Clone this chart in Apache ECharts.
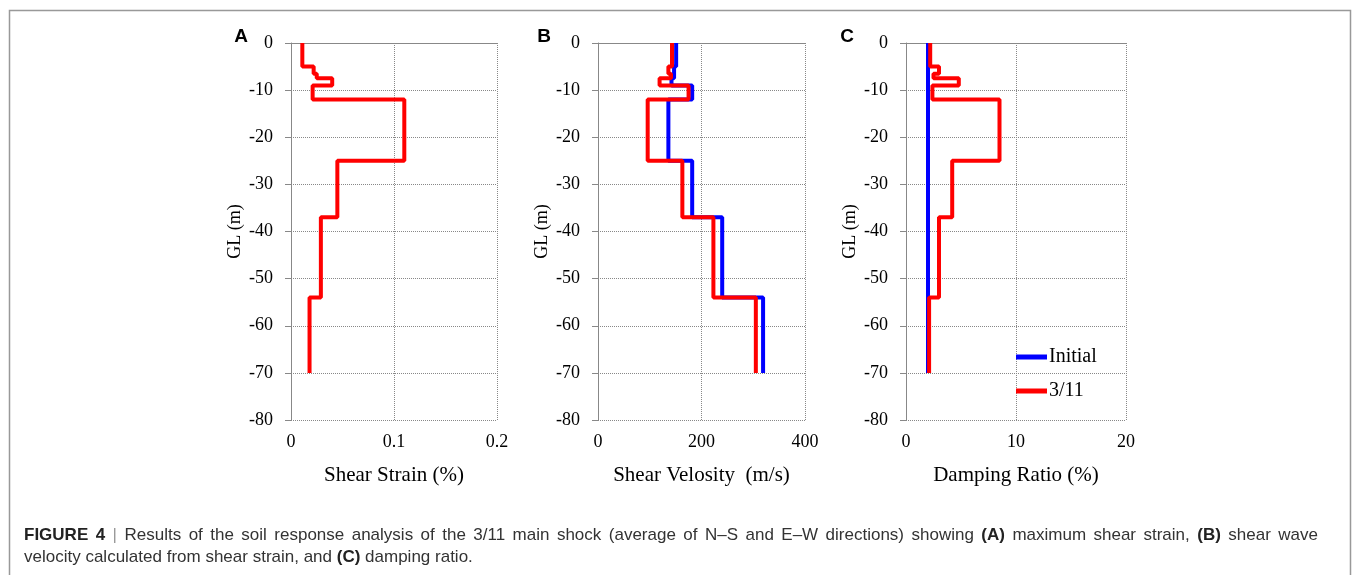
<!DOCTYPE html>
<html><head><meta charset="utf-8">
<script src="https://cdn.jsdelivr.net/npm/echarts@6/dist/echarts.min.js"></script>
<style>
html,body{margin:0;padding:0;background:#fff}
#wrap{position:relative;width:1357px;height:575px;overflow:hidden}
#c{width:1357px;height:575px}
.cap{position:absolute;left:24px;width:1294px;font-family:"Liberation Sans",Arial,sans-serif;font-size:17px;color:#333;white-space:nowrap;line-height:18px}
.cap b{color:#222}
.cap .s{color:#999}
#l1{top:526px;text-align:justify;text-align-last:justify}
#l2{top:548px;text-align:left}
</style>
</head><body><div id="wrap"><div id="c"></div>
<div class="cap" id="l1"></div>
<div class="cap" id="l2"></div>
</div>
<script>
// Layer boundaries (GL, m) and per-layer values
const depthBounds = [0, -5, -6.5, -7.5, -9, -12, -25, -37, -54, -70];
const strain311   = [0.011, 0.022, 0.025, 0.040, 0.021, 0.110, 0.045, 0.029, 0.018];
const vsInitial   = [151, 147, 147, 142, 182, 136, 182, 240, 319];
const vs311       = [143, 136, 141, 119, 175, 96, 163, 223, 305];
const dampInitial = [2.0, 2.0, 2.0, 2.0, 2.0, 2.0, 2.0, 2.0, 2.0];
const damp311     = [2.2, 3.0, 2.5, 4.8, 2.4, 8.5, 4.2, 3.0, 2.1];
const panelLetters = ['A', 'B', 'C'];
const xTitles = ['Shear Strain (%)', 'Shear Velosity  (m/s)', 'Damping Ratio (%)'];
const xMax = [0.2, 400, 20];
const xInterval = [0.1, 200, 10];
const yTitle = 'GL (m)';
const legendNames = ['Initial', '3/11'];
const captionLine1 = '<b>FIGURE 4</b> <span class="s">|</span> Results of the soil response analysis of the 3/11 main shock (average of N–S and E–W directions) showing <b>(A)</b> maximum shear strain, <b>(B)</b> shear wave';
const captionLine2 = 'velocity calculated from shear strain, and <b>(C)</b> damping ratio.';

document.getElementById('l1').innerHTML = captionLine1;
document.getElementById('l2').innerHTML = captionLine2;

function steps(vals) {
  const pts = [];
  for (let i = 0; i < vals.length; i++) {
    pts.push([vals[i], depthBounds[i]], [vals[i], depthBounds[i + 1]]);
  }
  return pts;
}

const serif = 'Liberation Serif';
const grids = [
  {left: 291, top: 43, width: 206, height: 377},
  {left: 598, top: 43, width: 207, height: 377},
  {left: 906, top: 43, width: 220, height: 377}
];
const xAxes = grids.map((g, i) => ({
  gridIndex: i, type: 'value', min: 0, max: xMax[i], interval: xInterval[i],
  name: xTitles[i], nameLocation: 'middle', nameGap: 45,
  nameTextStyle: {fontFamily: serif, fontSize: 21, color: '#000'},
  axisLine: {show: true, lineStyle: {color: '#888', width: 1}},
  axisTick: {show: false},
  axisLabel: {fontFamily: serif, fontSize: 18, color: '#000', margin: 13},
  splitLine: {show: true, lineStyle: {type: 'dotted', color: '#888', width: 1}}
}));
const yAxes = grids.map((g, i) => ({
  gridIndex: i, type: 'value', min: -80, max: 0, interval: 10,
  name: yTitle, nameLocation: 'middle', nameGap: 47,
  nameTextStyle: {fontFamily: serif, fontSize: 18, color: '#000'},
  axisLine: {show: true, onZero: false, lineStyle: {color: '#888', width: 1}},
  axisTick: {show: true, length: 6, lineStyle: {color: '#888'}},
  axisLabel: {fontFamily: serif, fontSize: 18, color: '#000', margin: 18},
  splitLine: {show: true, lineStyle: {type: 'dotted', color: '#888', width: 1}}
}));

const lineSeries = (name, idx, vals, color) => ({
  name, type: 'line', xAxisIndex: idx, yAxisIndex: idx, data: steps(vals),
  showSymbol: false, symbol: 'none', lineStyle: {color, width: 4}, itemStyle: {color},
  animation: false, z: name === '3/11' ? 3 : 2
});

const series = [
  lineSeries('3/11', 0, strain311, '#ff0000'),
  lineSeries('Initial', 1, vsInitial, '#0000ff'),
  lineSeries('3/11', 1, vs311, '#ff0000'),
  lineSeries('Initial', 2, dampInitial, '#0000ff'),
  lineSeries('3/11', 2, damp311, '#ff0000')
];

const letterX = [241, 544, 847];
const graphic = [
  {type: 'rect', shape: {x: 9.5, y: 10.5, width: 1341, height: 620}, style: {fill: 'none', stroke: '#999', lineWidth: 1.5}, silent: true},
  ...panelLetters.map((t, i) => ({type: 'text', x: letterX[i], y: 37, style: {text: t, font: 'bold 19px "Liberation Sans"', fill: '#000', align: 'center', verticalAlign: 'middle'}}))
];

const chart = echarts.init(document.getElementById('c'), null, {renderer: 'canvas'});
chart.setOption({
  animation: false,
  backgroundColor: '#fff',
  grid: grids,
  xAxis: xAxes,
  yAxis: yAxes,
  series,
  legend: {
    data: legendNames, orient: 'vertical', left: 1016, top: 347, padding: 0,
    itemWidth: 31, itemHeight: 5, itemGap: 14, icon: 'rect',
    textStyle: {fontFamily: serif, fontSize: 20, color: '#000', padding: [0, 0, 0, -3]},
    selectedMode: false
  },
  graphic
});
</script></body></html>
